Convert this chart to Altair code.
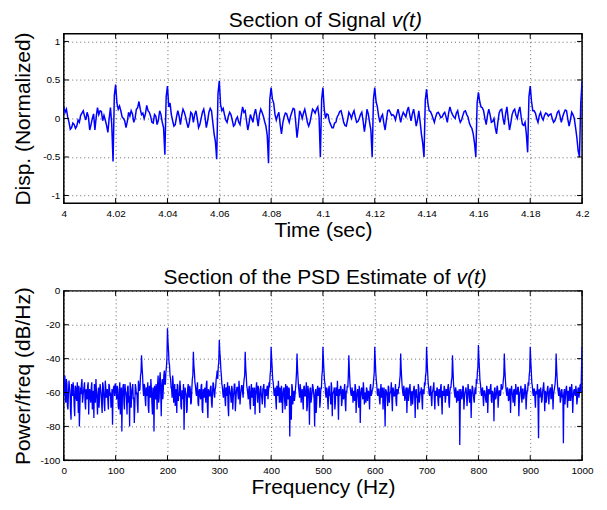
import altair as alt
import pandas as pd

FONT = "Liberation Sans"
W, H = 520, 170

# ---------------- data ----------------
# displacement, samples on whole milliseconds from 4.000 s
t_start, t_step = 4.0, 0.001
disp_values = [
    0.15, 0.12, -0.05, -0.12, -0.08, -0.10, -0.05, 0.07, 0.03, 0.08, -0.15, 0.00, -0.15, 0.14, 0.10, -0.03, -0.02, -0.18, 0.14, -0.56,
    0.44, 0.12, 0.10, 0.00, -0.12, 0.08, 0.10, -0.05, 0.12, 0.22, 0.05, 0.00, 0.17, 0.08, -0.05, 0.05, -0.08, 0.10, -0.05, -0.47,
    0.42, 0.20, -0.03, -0.08, 0.10, -0.08, 0.12, 0.02, -0.12, 0.08, -0.05, 0.10, -0.12, 0.00, 0.12, -0.12, 0.08, 0.10, -0.20, -0.53,
    0.49, 0.10, 0.05, -0.05, 0.08, -0.02, -0.08, 0.02, -0.08, 0.15, 0.10, -0.15, 0.05, -0.05, 0.12, -0.10, 0.12, 0.03, -0.10, -0.58,
    0.40, 0.20, -0.02, 0.08, -0.20, 0.02, 0.06, -0.05, 0.08, 0.12, -0.25, 0.10, 0.00, 0.12, -0.05, -0.05, 0.12, 0.07, 0.15, -0.50,
    0.40, 0.00, 0.05, -0.08, -0.12, -0.05, 0.05, 0.10, -0.05, -0.10, 0.08, 0.00, 0.10, -0.05, 0.00, 0.08, -0.17, 0.12, -0.05, -0.50,
    0.40, 0.15, -0.05, 0.05, -0.15, 0.10, 0.08, 0.05, -0.02, 0.12, -0.05, 0.08, 0.02, 0.15, -0.03, 0.12, -0.10, 0.10, -0.20, -0.50,
    0.38, 0.10, 0.05, -0.05, 0.07, 0.05, 0.02, 0.08, -0.05, 0.15, 0.05, 0.00, 0.10, -0.05, 0.04, 0.10, 0.02, -0.10, -0.20, -0.50,
    0.34, 0.15, 0.10, -0.08, 0.12, -0.05, 0.00, -0.20, 0.07, 0.12, -0.08, 0.15, -0.15, 0.05, 0.12, 0.00, 0.15, -0.08, -0.05, -0.44,
    0.42, 0.10, 0.07, -0.05, 0.08, -0.02, 0.07, 0.03, 0.06, -0.05, 0.02, 0.10, -0.05, 0.07, 0.10, -0.10, 0.08, 0.00, -0.25, -0.50,
    0.48,
]
# displacement, samples on the half milliseconds (4.0005 s, 4.0015 s, ...)
disp_values_half = [
    0.08, 0.02, -0.14, -0.06, -0.13, -0.02, 0.04, 0.10, -0.02, 0.02, -0.08, 0.06, 0.02, 0.05, 0.09, 0.04, -0.09, 0.00, -0.08, 0.30,
    0.20, 0.16, 0.02, -0.03, -0.04, 0.03, 0.06, 0.00, 0.14, 0.12, 0.07, 0.06, 0.10, 0.03, -0.06, 0.03, -0.02, 0.05, -0.12, 0.28,
    0.15, 0.05, -0.10, 0.02, 0.03, 0.04, 0.08, -0.06, -0.04, 0.06, 0.05, 0.00, -0.08, 0.08, 0.02, -0.03, 0.13, -0.05, -0.30, 0.32,
    0.18, 0.13, -0.02, 0.03, 0.05, -0.10, -0.01, -0.05, 0.05, 0.08, -0.03, -0.06, 0.00, 0.06, 0.02, 0.05, 0.08, -0.04, -0.22, 0.25,
    0.25, 0.05, 0.04, -0.08, -0.06, 0.07, 0.00, 0.03, 0.13, -0.05, -0.10, 0.06, 0.07, 0.04, -0.10, 0.04, 0.10, 0.12, 0.02, 0.25,
    0.12, 0.06, -0.04, -0.12, -0.06, 0.02, 0.09, 0.03, -0.09, -0.02, 0.05, 0.06, 0.02, -0.04, 0.05, -0.03, -0.05, 0.06, -0.15, 0.25,
    0.22, 0.03, 0.02, -0.06, -0.02, 0.11, 0.04, 0.03, 0.06, 0.04, 0.03, 0.05, 0.10, 0.05, 0.06, 0.02, -0.02, -0.04, -0.32, 0.24,
    0.20, 0.09, 0.00, 0.02, 0.08, 0.01, 0.06, 0.02, 0.07, 0.09, 0.02, 0.07, 0.01, -0.02, 0.09, 0.05, -0.06, -0.13, -0.32, 0.20,
    0.22, 0.14, 0.00, 0.04, 0.05, -0.04, -0.12, -0.05, 0.11, 0.00, 0.06, 0.00, -0.06, 0.10, 0.04, 0.09, 0.02, -0.09, -0.20, 0.28,
    0.22, 0.10, 0.00, 0.04, 0.01, 0.04, 0.06, 0.05, 0.00, -0.03, 0.08, 0.03, 0.02, 0.11, -0.01, -0.02, 0.05, -0.12, -0.42, 0.20,
]

# PSD (dB/Hz) on even frequencies 0, 2, ..., 1000 Hz
psd_even = [
    -62, -50, -66, -55, -70, -53, -60, -76, -58, -54, -68, -56, -63, -54, -72, -80, -57, -55, -66, -59, -54, -70, -61, -56, -73,
    -58, -66, -54, -62, -75, -57, -52, -64, -60, -69, -55, -61, -72, -56, -67, -53, -63, -58, -70, -56, -60, -66, -79, -57, -62,
    -55, -64, -58, -70, -54, -62, -83, -57, -66, -55, -60, -73, -56, -62, -54, -69, -58, -64, -78, -55, -61, -67, -53, -59, -50,
    -38, -50, -62, -56, -68, -58, -54, -72, -60, -52, -66, -57, -83, -61, -55, -70, -50, -63, -48, -74, -52, -58, -47, -55, -45,
    -22, -35, -44, -52, -58, -50, -66, -55, -62, -72, -56, -60, -53, -68, -59, -64, -82, -57, -61, -70, -55, -63, -58, -66, -52,
    -36, -48, -56, -62, -54, -68, -58, -64, -55, -72, -60, -57, -66, -53, -75, -59, -62, -56, -69, -54, -61, -58, -52, -47, -45,
    -29, -40, -50, -57, -63, -55, -68, -59, -54, -74, -58, -62, -56, -70, -60, -55, -65, -57, -61, -53, -67, -59, -56, -63, -52,
    -36, -50, -58, -64, -56, -70, -55, -61, -68, -57, -62, -54, -66, -59, -72, -56, -63, -58, -55, -69, -60, -57, -64, -54, -50,
    -33, -45, -54, -62, -57, -70, -59, -53, -66, -60, -56, -72, -58, -64, -55, -68, -61, -57, -86, -63, -55, -67, -59, -62, -54,
    -37, -52, -60, -55, -66, -58, -70, -56, -62, -54, -68, -59, -79, -57, -63, -55, -60, -80, -58, -65, -56, -61, -69, -57, -50,
    -33, -47, -55, -63, -58, -70, -56, -61, -54, -74, -60, -57, -66, -59, -53, -76, -62, -56, -68, -58, -64, -55, -71, -60, -57,
    -38, -54, -61, -57, -66, -59, -55, -72, -60, -63, -56, -78, -58, -62, -54, -67, -60, -57, -65, -59, -70, -55, -61, -58, -52,
    -33, -48, -56, -62, -58, -67, -55, -61, -70, -57, -80, -59, -63, -56, -66, -60, -54, -71, -58, -62, -55, -68, -60, -57, -53,
    -37, -52, -60, -56, -65, -58, -72, -57, -61, -55, -68, -59, -63, -56, -75, -58, -62, -55, -66, -60, -57, -70, -59, -54, -50,
    -33, -48, -57, -62, -56, -68, -59, -54, -70, -61, -57, -65, -58, -63, -55, -73, -60, -56, -66, -58, -62, -55, -69, -57, -53,
    -38, -55, -61, -57, -66, -59, -63, -91, -58, -64, -56, -70, -60, -57, -68, -55, -62, -58, -75, -56, -61, -66, -57, -52, -48,
    -32, -46, -55, -62, -57, -68, -59, -64, -56, -72, -58, -61, -55, -66, -60, -77, -57, -63, -56, -69, -59, -62, -55, -58, -53,
    -37, -52, -60, -57, -65, -58, -72, -56, -62, -59, -68, -55, -61, -57, -74, -60, -56, -66, -58, -63, -55, -70, -59, -54, -50,
    -33, -47, -56, -62, -58, -69, -60, -55, -87, -63, -57, -66, -59, -54, -71, -60, -62, -56, -67, -58, -64, -55, -70, -59, -55,
    -37, -52, -60, -57, -66, -59, -63, -90, -58, -62, -56, -69, -60, -57, -65, -55, -72, -59, -61, -56, -67, -58, -63, -56, -60,
    -33,
]
# PSD (dB/Hz) on odd frequencies 1, 3, ..., 999 Hz
psd_odd = [
    -58, -64, -52, -68, -60, -57, -71, -55, -62, -59, -74, -57, -65, -60, -56, -69, -61, -52, -63, -57, -66, -58, -64, -54, -60,
    -63, -57, -70, -59, -55, -66, -60, -73, -57, -62, -58, -67, -54, -61, -71, -57, -60, -65, -55, -62, -69, -58, -60, -56, -55,
    -61, -56, -68, -60, -73, -57, -62, -55, -70, -59, -64, -57, -66, -80, -58, -61, -55, -63, -68, -57, -60, -72, -56, -58, -48,
    -45, -58, -55, -64, -57, -62, -69, -56, -63, -58, -73, -60, -56, -64, -58, -55, -66, -52, -60, -56, -64, -50, -55, -48, -40,
    -30, -42, -50, -57, -63, -54, -60, -68, -58, -55, -65, -62, -57, -70, -59, -55, -64, -60, -72, -58, -62, -56, -67, -58, -50,
    -44, -54, -60, -57, -66, -59, -62, -56, -70, -58, -63, -60, -55, -68, -58, -62, -57, -66, -60, -55, -63, -57, -50, -52, -42,
    -36, -46, -55, -61, -58, -64, -57, -62, -69, -56, -60, -66, -58, -63, -55, -71, -59, -57, -64, -58, -62, -56, -60, -55, -50,
    -45, -56, -61, -58, -66, -59, -63, -57, -62, -73, -58, -60, -56, -64, -58, -61, -67, -57, -63, -58, -62, -56, -59, -57, -47,
    -40, -52, -58, -61, -64, -56, -62, -59, -57, -66, -60, -63, -57, -70, -59, -56, -64, -58, -62, -76, -57, -61, -65, -58, -48,
    -46, -57, -63, -58, -61, -64, -57, -62, -59, -71, -56, -63, -58, -66, -60, -57, -64, -61, -72, -58, -62, -57, -65, -58, -47,
    -41, -53, -60, -57, -64, -58, -62, -67, -57, -61, -59, -70, -57, -62, -64, -58, -60, -57, -65, -61, -58, -66, -59, -56, -50,
    -47, -58, -62, -59, -60, -65, -57, -63, -58, -69, -60, -62, -57, -64, -59, -61, -66, -58, -60, -63, -57, -62, -59, -56, -48,
    -41, -53, -61, -58, -64, -59, -63, -57, -62, -66, -58, -60, -68, -57, -61, -59, -64, -57, -62, -60, -65, -58, -61, -57, -50,
    -46, -57, -62, -59, -63, -57, -61, -65, -58, -62, -60, -67, -58, -61, -59, -63, -70, -57, -62, -59, -64, -58, -61, -56, -48,
    -41, -54, -61, -58, -63, -60, -57, -64, -59, -62, -58, -68, -60, -57, -65, -59, -62, -58, -63, -60, -57, -66, -59, -57, -51,
    -47, -58, -63, -59, -61, -65, -58, -67, -60, -62, -57, -64, -59, -61, -63, -58, -66, -60, -62, -57, -64, -59, -61, -55, -45,
    -40, -53, -60, -58, -63, -59, -61, -66, -58, -62, -60, -57, -65, -59, -62, -58, -64, -60, -57, -63, -59, -61, -58, -57, -50,
    -46, -57, -62, -59, -64, -58, -61, -60, -66, -58, -63, -59, -61, -57, -65, -59, -62, -58, -64, -60, -57, -63, -59, -56, -47,
    -41, -54, -60, -58, -63, -59, -61, -65, -58, -62, -60, -64, -57, -61, -59, -66, -58, -62, -60, -57, -63, -59, -61, -57, -50,
    -46, -57, -62, -59, -64, -58, -61, -60, -67, -58, -62, -59, -65, -57, -61, -60, -63, -58, -62, -59, -64, -57, -60, -55, -46,
]

time_ticks = [4, 4.02, 4.04, 4.06, 4.08, 4.1, 4.12, 4.14, 4.16, 4.18, 4.2]
disp_ticks = [-1, -0.5, 0, 0.5, 1]
freq_ticks = [0, 100, 200, 300, 400, 500, 600, 700, 800, 900, 1000]
psd_ticks = [-100, -80, -60, -40, -20, 0]

sig_df = pd.concat([
    pd.DataFrame({"t": [round(t_start + i * t_step, 4) for i in range(len(disp_values))],
                  "v": disp_values}),
    pd.DataFrame({"t": [round(t_start + (i + 0.5) * t_step, 5) for i in range(len(disp_values_half))],
                  "v": disp_values_half}),
]).sort_values("t").reset_index(drop=True)
sig_df["o"] = range(len(sig_df))

psd_df = pd.concat([
    pd.DataFrame({"f": [2 * i for i in range(len(psd_even))], "p": psd_even}),
    pd.DataFrame({"f": [2 * i + 1 for i in range(len(psd_odd))], "p": psd_odd}),
]).sort_values("f").reset_index(drop=True)
psd_df["o"] = range(len(psd_df))


def panel(df, xf, yf, xdom, ydom, xticks, yticks, xtitle, ytitle,
          title_main, title_it, split_x, ytitle_pad, lw):
    xs = alt.Scale(domain=xdom, nice=False, zero=False)
    ys = alt.Scale(domain=ydom, nice=False, zero=False)
    x_axis = alt.Axis(values=xticks, title=xtitle, labelExpr="'' + datum.value",
                      labelFlush=False, titlePadding=1, labelPadding=5)
    y_axis = alt.Axis(values=yticks, title=ytitle, labelExpr="'' + datum.value",
                      titlePadding=ytitle_pad, labelPadding=4)
    line = alt.Chart(df).mark_line(color="#0000ff", strokeWidth=lw, clip=True).encode(
        x=alt.X(f"{xf}:Q", scale=xs, axis=x_axis),
        y=alt.Y(f"{yf}:Q", scale=ys, axis=y_axis),
        order="o:Q",
    )
    xt = pd.DataFrame({xf: xticks})
    yt = pd.DataFrame({yf: yticks})
    tick_style = dict(color="black", strokeWidth=1)
    xt_top = alt.Chart(xt).mark_rule(**tick_style).encode(
        x=alt.X(f"{xf}:Q", scale=xs, axis=x_axis), y=alt.value(0), y2=alt.value(5))
    xt_bot = alt.Chart(xt).mark_rule(**tick_style).encode(
        x=alt.X(f"{xf}:Q", scale=xs, axis=x_axis), y=alt.value(H), y2=alt.value(H - 5))
    yt_left = alt.Chart(yt).mark_rule(**tick_style).encode(
        y=alt.Y(f"{yf}:Q", scale=ys, axis=y_axis), x=alt.value(0), x2=alt.value(5))
    yt_right = alt.Chart(yt).mark_rule(**tick_style).encode(
        y=alt.Y(f"{yf}:Q", scale=ys, axis=y_axis), x=alt.value(W), x2=alt.value(W - 5))
    t1 = alt.Chart(pd.DataFrame({"s": [title_main]})).mark_text(
        align="right", baseline="alphabetic", font=FONT, fontSize=21, color="black"
    ).encode(text="s:N", x=alt.value(split_x - 6), y=alt.value(-7))
    t2 = alt.Chart(pd.DataFrame({"s": [title_it]})).mark_text(
        align="left", baseline="alphabetic", font=FONT, fontSize=21, fontStyle="italic", color="black"
    ).encode(text="s:N", x=alt.value(split_x), y=alt.value(-7))
    return alt.layer(line, xt_top, xt_bot, yt_left, yt_right, t1, t2).properties(width=W, height=H)


top = panel(sig_df, "t", "v", [4.0, 4.2], [-1.1, 1.1], time_ticks, disp_ticks,
            "Time (sec)", "Disp. (Normalized)", "Section of Signal", "v(t)", 329, 9, 1.5)
bottom = panel(psd_df, "f", "p", [0, 1000], [-100, 0], freq_ticks, psd_ticks,
               "Frequency (Hz)", "Power/freq (dB/Hz)", "Section of the PSD Estimate of", "v(t)", 394, 6, 1.3)

chart = alt.vconcat(top, bottom, spacing=88, bounds="flush").properties(
    padding={"left": 4, "top": 0, "right": 5, "bottom": 2}
).configure_axis(
    domain=False, ticks=False, tickSize=0,
    labelFont=FONT, labelFontSize=10, labelColor="black",
    titleFont=FONT, titleFontSize=21, titleFontWeight="normal", titleColor="black",
    grid=True, gridColor="black", gridOpacity=0.6, gridDash=[1, 3], gridWidth=1,
).configure_view(stroke="black", strokeWidth=1.5)

chart.save("out.html", embed_options={"renderer": "svg", "actions": False})
